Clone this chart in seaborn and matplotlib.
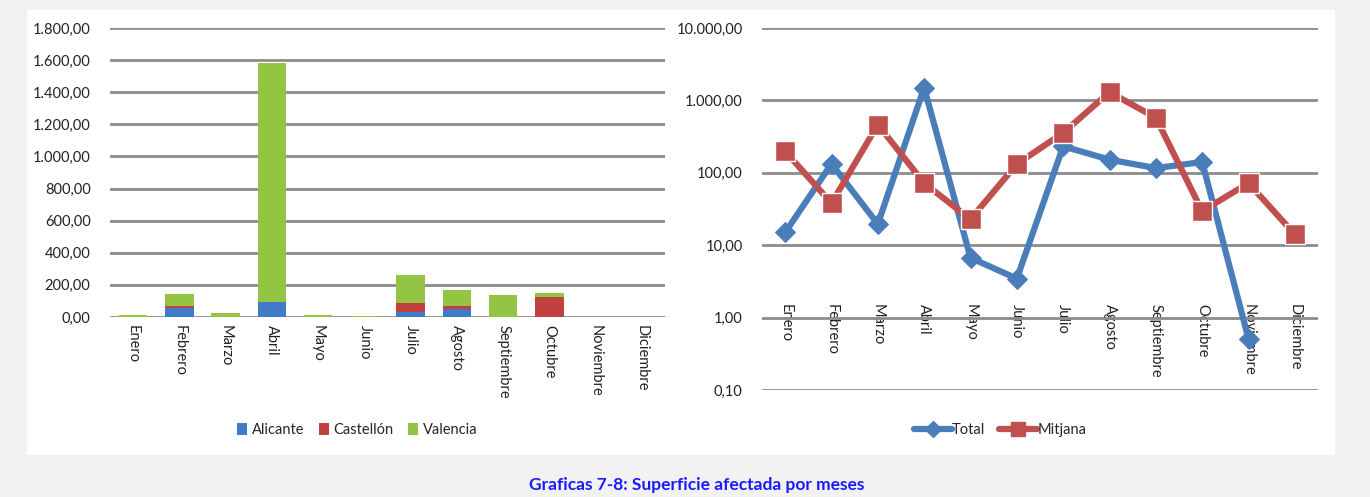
import numpy as np
import pandas as pd
import matplotlib
matplotlib.use("Agg")
import matplotlib.pyplot as plt
import seaborn as sns
from matplotlib.patches import Rectangle
from matplotlib.lines import Line2D
from matplotlib.ticker import FixedLocator, FuncFormatter

sns.set_theme(style="white")
plt.rcParams['font.family'] = ['Lato', 'DejaVu Sans']

months = ["Enero", "Febrero", "Marzo", "Abril", "Mayo", "Junio", "Julio",
          "Agosto", "Septiembre", "Octubre", "Noviembre", "Diciembre"]
alicante = [0, 58, 0, 92, 0, 0, 32, 52, 0, 0, 0, 0]
castellon = [0, 12, 0, 0, 0, 0, 58, 16, 0, 125, 0, 0]
valencia = [12, 72, 28, 1490, 12, 4, 172, 100, 140, 22, 3, 0]

total = [15, 133, 19.6, 1500, 6.7, 3.45, 232, 152, 116, 141, 0.51, np.nan]
mitjana = [198, 38, 464, 72, 22.8, 132, 356, 1303, 576, 29.6, 72, 14.1]

yticks_left = [0, 200, 400, 600, 800, 1000, 1200, 1400, 1600, 1800]
yticks_right = [0.1, 1, 10, 100, 1000, 10000]

c_blue = "#3f7bc6"
c_red = "#c0413e"
c_green = "#94c443"
c_lblue = "#4a7ebb"
c_lred = "#c0504d"
grid_c = "#8c8c8c"


def eu(v, dec=2):
    s = f"{v:,.{dec}f}"
    return s.replace(",", "X").replace(".", ",").replace("X", ".")


fig = plt.figure(figsize=(13.70, 4.97), dpi=100)
fig.patch.set_facecolor("#f2f2f2")
fig.add_artist(Rectangle((27 / 1370, 1 - 455 / 497), (1335 - 27) / 1370, (455 - 10) / 497,
                         transform=fig.transFigure, facecolor="white", edgecolor="none", zorder=0))

# ---------- Left: stacked bars ----------
axL = fig.add_axes([110 / 1370, 1 - 317 / 497, (665 - 110) / 1370, (317 - 28) / 497])
axL.set_facecolor("none")
df = pd.DataFrame({"mes": months, "Alicante": alicante, "Castellón": castellon, "Valencia": valencia})
df["c2"] = df["Alicante"] + df["Castellón"]
df["c3"] = df["c2"] + df["Valencia"]
for col, c in [("c3", c_green), ("c2", c_red), ("Alicante", c_blue)]:
    sns.barplot(data=df, x="mes", y=col, color=c, width=0.62, ax=axL,
                saturation=1, edgecolor="none", zorder=3)
axL.set_ylim(0, 1800)
axL.set_xlim(-0.5, 11.5)
axL.set_yticks(yticks_left)
axL.set_yticklabels([eu(v) for v in yticks_left], fontsize=10.5, color="#222222")
for v in yticks_left:
    axL.axhline(v, color=grid_c, lw=2, zorder=1)
axL.set_xlabel("")
axL.set_ylabel("")
axL.tick_params(axis="x", labelrotation=270, labelsize=10.5, colors="#222222", length=0, pad=6)
axL.tick_params(axis="y", length=0, pad=14)
for lab in axL.get_xticklabels():
    lab.set_verticalalignment("top")
for s in axL.spines.values():
    s.set_visible(False)
handlesL = [Rectangle((0, 0), 1, 1, facecolor=c, edgecolor="none") for c in (c_blue, c_red, c_green)]
fig.legend(handlesL, ["Alicante", "Castellón", "Valencia"], loc="center",
           bbox_to_anchor=(357 / 1370, 1 - 430 / 497), ncol=3, frameon=False, fontsize=10.5,
           handlelength=0.7, handleheight=0.9, handletextpad=0.3, columnspacing=1.0)

# ---------- Right: log lines ----------
axR = fig.add_axes([762 / 1370, 1 - 390 / 497, (1318 - 762) / 1370, (390 - 28) / 497])
axR.set_facecolor("none")
dfl = pd.DataFrame({"x": np.arange(12), "Total": total, "Mitjana": mitjana})
sns.lineplot(data=dfl.dropna(subset=["Total"]), x="x", y="Total", ax=axR, color=c_lblue, lw=4.5,
             marker="D", markersize=10, markeredgecolor=c_lblue, zorder=4)
sns.lineplot(data=dfl, x="x", y="Mitjana", ax=axR, color=c_lred, lw=4.5,
             marker="s", markersize=14, markeredgecolor="white", markeredgewidth=1, zorder=5)
axR.set_yscale("log")
axR.set_ylim(0.1, 10000)
axR.set_xlim(-0.5, 11.5)
axR.yaxis.set_major_locator(FixedLocator(yticks_right))
axR.yaxis.set_minor_locator(FixedLocator([]))
axR.yaxis.set_major_formatter(FuncFormatter(lambda v, p: eu(v)))
for v in yticks_right:
    axR.axhline(v, color=grid_c, lw=2, zorder=1)
axR.set_xticks(range(12))
axR.set_xticklabels(months)
axR.set_xlabel("")
axR.set_ylabel("")
axR.tick_params(axis="x", labelrotation=270, labelsize=10.5, colors="#222222", length=0, pad=-62)
axR.tick_params(axis="y", labelsize=10.5, colors="#222222", length=0, pad=14)
for lab in axR.get_xticklabels():
    lab.set_verticalalignment("top")
for s in axR.spines.values():
    s.set_visible(False)
handlesR = [Line2D([], [], color=c_lblue, lw=4.5, marker="D", markersize=8),
            Line2D([], [], color=c_lred, lw=4.5, marker="s", markersize=10)]
fig.legend(handlesR, ["Total", "Mitjana"], loc="center",
           bbox_to_anchor=(1000 / 1370, 1 - 430 / 497), ncol=2, frameon=False, fontsize=10.5,
           handlelength=2.6, handletextpad=0.0, columnspacing=1.0)

fig.text(697 / 1370, 1 - 485 / 497, "Graficas 7-8: Superficie afectada por meses",
         ha="center", va="center", fontsize=12.5, fontweight="bold", color="#1a1aff")

fig.savefig("out.png", dpi=100, facecolor=fig.get_facecolor())
